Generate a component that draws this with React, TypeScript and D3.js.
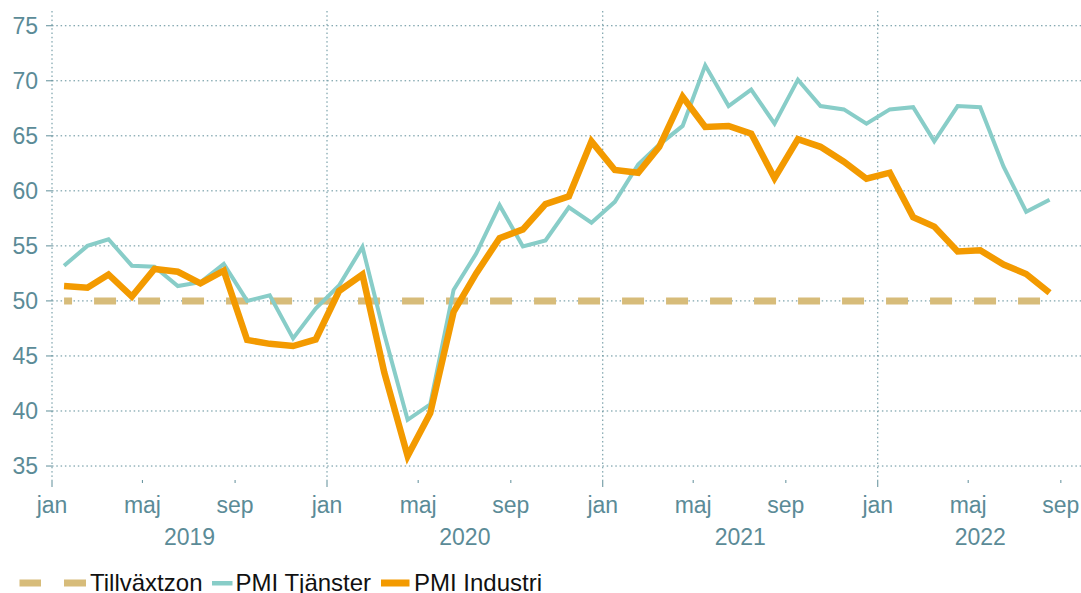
import React from "react";
import * as d3 from "d3";

const width = 1081;
const height = 593;

// monthly PMI readings jan 2019 - aug 2022
const firstMonth = new Date(2019, 0, 1);
const lastMonth = new Date(2022, 7, 1);
const tjanster = [53.2, 55.0, 55.6, 53.2, 53.1, 51.35, 51.7, 53.35, 50.0, 50.5, 46.6, 49.3, 51.4, 54.9, 47.0, 39.2, 40.6, 51.0, 54.3, 58.7, 54.95, 55.5, 58.5, 57.1, 59.0, 62.4, 64.2, 65.9, 71.4, 67.7, 69.2, 66.1, 70.1, 67.7, 67.4, 66.1, 67.4, 67.6, 64.5, 67.7, 67.6, 62.2, 58.1, 59.2];
const industri = [51.35, 51.2, 52.4, 50.4, 52.9, 52.65, 51.6, 52.75, 46.45, 46.1, 45.9, 46.5, 50.9, 52.4, 43.5, 35.9, 39.8, 49.0, 52.5, 55.7, 56.5, 58.8, 59.5, 64.5, 61.9, 61.65, 64.0, 68.55, 65.8, 65.9, 65.2, 61.15, 64.7, 64.0, 62.65, 61.1, 61.65, 57.6, 56.75, 54.5, 54.6, 53.3, 52.45, 50.75];
const tillvaxtzon = 50;

const yTicks = [35, 40, 45, 50, 55, 60, 65, 70, 75];
const monthNames = ["jan", "feb", "mar", "apr", "maj", "jun", "jul", "aug", "sep", "okt", "nov", "dec"];
const years = [2019, 2020, 2021, 2022];

const seriesNames = ["Tillväxtzon", "PMI Tjänster", "PMI Industri"];

const colors = {
    zone: "#d7bc7a",
    tjanster: "#88cdc8",
    industri: "#f39a00",
    axis: "#5b8b97",
    grid: "#5f8e99",
};

const font = "'Liberation Sans', Arial, sans-serif";

const margin = { left: 52, top: 11, bottom: 480 };

const App = () => {
    const months = d3.timeMonth.range(firstMonth, d3.timeMonth.offset(lastMonth, 1));
    // plot points sit mid-month
    const dates = months.map(m => new Date(m.getFullYear(), m.getMonth(), 17));

    const x = d3.scaleTime()
        .domain([new Date(2019, 0, 1), new Date(2022, 8, 30)])
        .range([margin.left, 1082.7]);

    const y = d3.scaleLinear()
        .domain([33.73, 76.34])
        .range([margin.bottom, margin.top]);

    const line = d3.line<number>()
        .x((_, i) => x(dates[i]))
        .y(d => y(d));

    const zoneLine = line(dates.map(() => tillvaxtzon)) as string;

    const tickMonths = d3.timeMonth.every(4)!.range(new Date(2019, 0, 1), new Date(2022, 9, 1));
    const [x0, x1] = x.range();

    return (
        <svg width={width} height={height} style={{ position: "absolute", left: 0, top: 0 }}
            fontFamily={font}>
            <rect width={width} height={height} fill="white" />

            {/* grid */}
            <g stroke={colors.grid} strokeWidth={1}>
                {yTicks.map(t => (
                    <g key={t}>
                        <line x1={x0} x2={width} y1={y(t)} y2={y(t)} strokeDasharray="1.5,2.8" />
                        <line x1={x0 - 6} x2={x0} y1={y(t)} y2={y(t)} />
                    </g>
                ))}
                {years.map(yr => (
                    <line key={yr} x1={x(new Date(yr, 0, 1))} x2={x(new Date(yr, 0, 1))}
                        y1={margin.top} y2={margin.bottom} strokeDasharray="1.5,2.8" />
                ))}
                {tickMonths.map(m => (
                    <line key={+m} x1={x(m)} x2={x(m)} y1={margin.bottom}
                        y2={margin.bottom + (m.getMonth() === 0 ? 7 : 3)} />
                ))}
            </g>

            {/* y labels */}
            <g fill={colors.axis} fontSize={23} textAnchor="end">
                {yTicks.map(t => (
                    <text key={t} x={x0 - 14} y={y(t)} dy="0.36em">{t}</text>
                ))}
            </g>

            {/* x labels */}
            <g fill={colors.axis} fontSize={23} textAnchor="middle">
                {tickMonths.map(m => (
                    <text key={+m} x={x(m)} y={513}>{monthNames[m.getMonth()]}</text>
                ))}
                {years.map(yr => {
                    const a = x(new Date(yr, 0, 1));
                    const b = Math.min(x(new Date(yr + 1, 0, 1)), x1);
                    return <text key={yr} x={(a + b) / 2} y={545}>{yr}</text>;
                })}
            </g>

            {/* series */}
            <path d={zoneLine} fill="none" stroke={colors.zone} strokeWidth={7}
                strokeDasharray="22,22" strokeDashoffset={14} />
            <path d={line(tjanster) as string} fill="none" stroke={colors.tjanster}
                strokeWidth={4} strokeLinejoin="miter" />
            <path d={line(industri) as string} fill="none" stroke={colors.industri}
                strokeWidth={6.5} strokeLinejoin="miter" />

            {/* legend */}
            <g fontSize={24} fill="#111">
                <rect x={19.5} y={579.5} width={21.5} height={7} fill={colors.zone} />
                <rect x={64} y={579.5} width={22} height={7} fill={colors.zone} />
                <text x={90} y={591}>{seriesNames[0]}</text>
                <rect x={212} y={581} width={20.5} height={4.5} fill={colors.tjanster} />
                <text x={235.5} y={591}>{seriesNames[1]}</text>
                <rect x={381} y={579.5} width={28.5} height={7} fill={colors.industri} />
                <text x={414} y={591}>{seriesNames[2]}</text>
            </g>
        </svg>
    );
};

export default App;
